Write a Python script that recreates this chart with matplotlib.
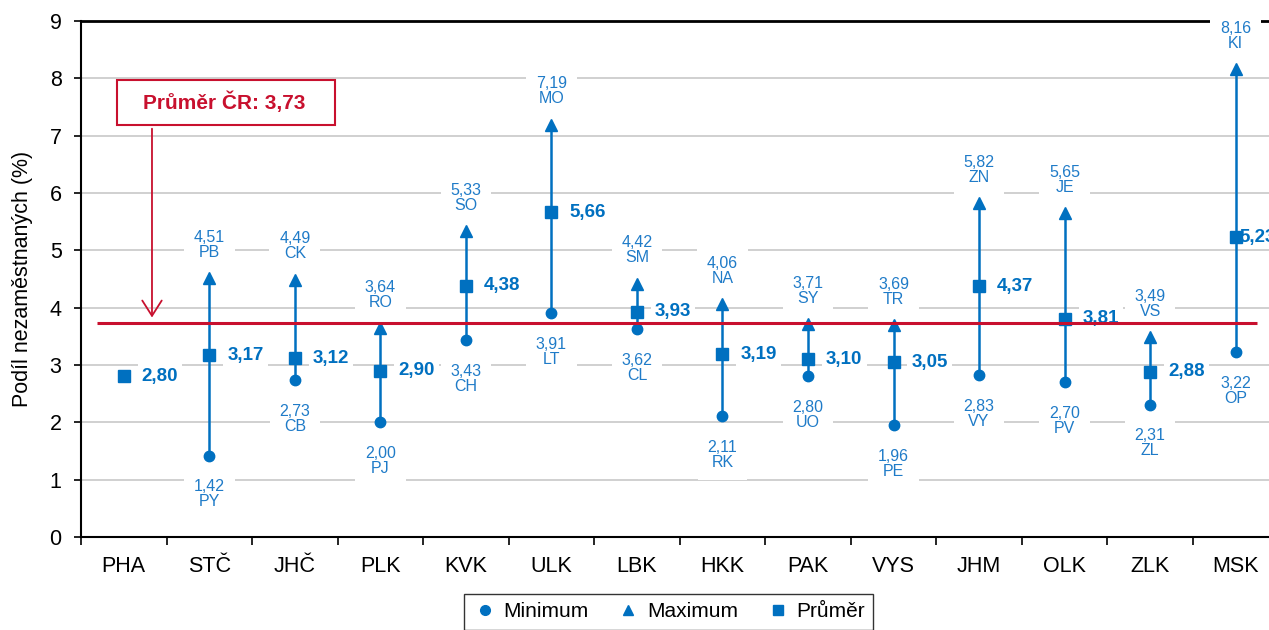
import numpy as np
import matplotlib
matplotlib.use("Agg")
import matplotlib.pyplot as plt
from matplotlib.lines import Line2D
from matplotlib.patches import Rectangle

plt.rcParams['font.family'] = ['Liberation Sans', 'DejaVu Sans']

regions = ["PHA", "STČ", "JHČ", "PLK", "KVK", "ULK", "LBK", "HKK", "PAK", "VYS", "JHM", "OLK", "ZLK", "MSK"]
min_vals = [np.nan, 1.42, 2.73, 2.00, 3.43, 3.91, 3.62, 2.11, 2.80, 1.96, 2.83, 2.70, 2.31, 3.22]
min_codes = ["", "PY", "CB", "PJ", "CH", "LT", "CL", "RK", "UO", "PE", "VY", "PV", "ZL", "OP"]
max_vals = [np.nan, 4.51, 4.49, 3.64, 5.33, 7.19, 4.42, 4.06, 3.71, 3.69, 5.82, 5.65, 3.49, 8.16]
max_codes = ["", "PB", "CK", "RO", "SO", "MO", "SM", "NA", "SY", "TR", "ZN", "JE", "VS", "KI"]
mean_vals = [2.80, 3.17, 3.12, 2.90, 4.38, 5.66, 3.93, 3.19, 3.10, 3.05, 4.37, 3.81, 2.88, 5.23]
cr_mean = 3.73

BLUE = "#0070C0"
LBLUE = "#1F7BC8"
RED = "#C8102E"

def fmt(v):
    return f"{v:.2f}".replace(".", ",")

fig = plt.figure(figsize=(12.69, 6.30), dpi=100)
ax = fig.add_axes([81/1269, 1-537/630, 1-81/1269, (537-21)/630])

x = np.arange(len(regions))
ax.set_xlim(-0.5, 13.39)
ax.set_ylim(0, 9)

# grid
ax.set_yticks(range(0, 10))
ax.yaxis.grid(True, color="#C8C8C8", linewidth=1.2, zorder=0)
ax.set_axisbelow(True)

for i in range(len(regions)):
    if not np.isnan(min_vals[i]):
        ax.plot([x[i], x[i]], [min_vals[i], max_vals[i]], color=BLUE, lw=1.8, zorder=3)
ax.plot(x, min_vals, 'o', color=BLUE, ms=7.5, ls='none', zorder=4)
ax.plot(x, max_vals, '^', color=BLUE, ms=9, ls='none', zorder=4)
ax.plot(x, mean_vals, 's', color=BLUE, ms=8.5, ls='none', zorder=4)

box = dict(facecolor='white', edgecolor='none', pad=7)
mbox = dict(facecolor='white', edgecolor='none', pad=3)
for i in range(len(regions)):
    if not np.isnan(max_vals[i]):
        ax.annotate(f"{fmt(max_vals[i])}\n{max_codes[i]}", (x[i], max_vals[i]),
                    xytext=(0, 24), textcoords='offset points', ha='center', va='center',
                    fontsize=11.5, color=LBLUE, linespacing=1.0, bbox=box, zorder=3)
        ax.annotate(f"{fmt(min_vals[i])}\n{min_codes[i]}", (x[i], min_vals[i]),
                    xytext=(0, -28), textcoords='offset points', ha='center', va='center',
                    fontsize=11.5, color=LBLUE, linespacing=1.0, bbox=box, zorder=3)
    last = i == len(regions) - 1
    ax.annotate(fmt(mean_vals[i]), (x[i], mean_vals[i]), xytext=(3 if last else 13, 0),
                textcoords='offset points', ha='left', va='center',
                fontsize=13.5, fontweight='bold', color=BLUE,
                bbox=None if last else mbox, zorder=5 if last else 3)

# national average line
ax.plot([-0.31, 13.25], [cr_mean, cr_mean], color=RED, lw=2.2, zorder=6, solid_capstyle='butt')

# annotation box
ax.add_patch(Rectangle((-0.079, 7.19), 2.55, 0.78, facecolor='white', edgecolor=RED, lw=1.5, zorder=6))
ax.text(1.17, 7.58, f"Průměr ČR: {fmt(cr_mean)}", ha='center', va='center', fontsize=15,
        fontweight='bold', color=RED, zorder=7)
ax.annotate("", xy=(0.33, cr_mean + 0.05), xytext=(0.33, 7.17),
            arrowprops=dict(arrowstyle='->,head_length=1.1,head_width=0.7', color=RED, lw=1.3),
            zorder=7)

# axes styling
ax.set_xticks(x)
ax.set_xticklabels(regions, fontsize=15.5)
ax.set_xticks(np.arange(-0.5, 13.5, 1), minor=True)
ax.tick_params(axis='x', which='major', length=0, pad=14)
ax.tick_params(axis='x', which='minor', length=6, width=1.2, direction='out')
ax.tick_params(axis='y', labelsize=15.5, length=5, width=1.2, pad=9)
ax.set_ylabel("Podíl nezaměstnaných (%)", fontsize=15.5, labelpad=12)
for s in ['left', 'bottom', 'top']:
    ax.spines[s].set_color('black')
    ax.spines[s].set_linewidth(1.5)
ax.spines['top'].set_linewidth(2)
ax.spines['right'].set_visible(False)

handles = [Line2D([], [], marker='o', color=BLUE, ls='none', ms=7),
           Line2D([], [], marker='^', color=BLUE, ls='none', ms=7.5),
           Line2D([], [], marker='s', color=BLUE, ls='none', ms=7)]
leg = fig.legend(handles, ["Minimum", "Maximum", "Průměr"], ncol=3, loc='upper center',
                 bbox_to_anchor=(668.5/1269, 1-594/630), fontsize=15, frameon=True,
                 fancybox=False, edgecolor='black', handletextpad=0.3, columnspacing=1.3,
                 handlelength=1.2, borderpad=0.4, borderaxespad=0)
leg.get_frame().set_linewidth(1.0)

fig.savefig("out.png", dpi=100)
